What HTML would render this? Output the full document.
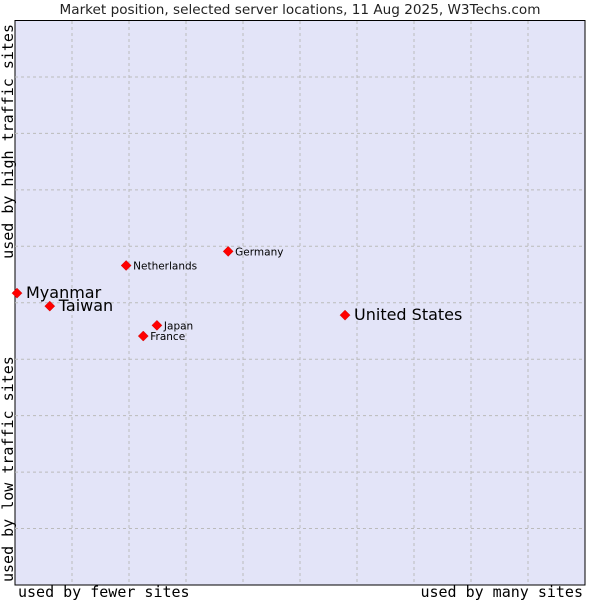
<!DOCTYPE html>
<html><head><meta charset="utf-8"><style>
body{margin:0;background:#fff;}
svg text{font-family:"DejaVu Sans","Liberation Sans",sans-serif;}
</style></head><body>
<svg id="c" width="600" height="600" xmlns="http://www.w3.org/2000/svg">
<text x="300" y="14" text-anchor="middle" font-size="13.6" fill="#222">Market position, selected server locations, 11 Aug 2025, W3Techs.com</text>
<rect x="15" y="20.5" width="570" height="564.5" fill="#e3e4f8" stroke="#000" stroke-width="1"/>
<g id="grid"></g>
<g id="pts"></g>
<text x="18" y="597" font-size="15" style="font-family:'DejaVu Sans Mono','Liberation Mono',monospace">used by fewer sites</text>
<text x="583" y="597" text-anchor="end" font-size="15" style="font-family:'DejaVu Sans Mono','Liberation Mono',monospace">used by many sites</text>
<text transform="translate(13,582) rotate(-90)" font-size="15" style="font-family:'DejaVu Sans Mono','Liberation Mono',monospace">used by low traffic sites</text>
<text transform="translate(13,24) rotate(-90)" text-anchor="end" font-size="15" style="font-family:'DejaVu Sans Mono','Liberation Mono',monospace">used by high traffic sites</text>
</svg>
<script>
const names=["Myanmar","Taiwan","Netherlands","Germany","Japan","France","United States"];
const xVals=[0.35,6.1,19.5,37.4,24.9,22.5,57.9];
const yVals=[51.7,49.4,56.6,59.1,46.0,44.1,47.8];
const big=[true,true,false,false,false,false,true];
const NS="http://www.w3.org/2000/svg";
const X=v=>15+v/100*570, Y=v=>585-v/100*564.5;
const grid=document.getElementById('grid'), pts=document.getElementById('pts');
for(let i=1;i<10;i++){
 const gx=document.createElementNS(NS,'line');
 gx.setAttribute('x1',X(i*10));gx.setAttribute('x2',X(i*10));gx.setAttribute('y1',21);gx.setAttribute('y2',585);
 gx.setAttribute('stroke','#bbb');gx.setAttribute('stroke-dasharray','3,3');
 
 
 grid.appendChild(gx);
 const gy=document.createElementNS(NS,'line');
 gy.setAttribute('y1',Y(i*10));gy.setAttribute('y2',Y(i*10));gy.setAttribute('x1',15);gy.setAttribute('x2',585);
 gy.setAttribute('stroke','#bbb');gy.setAttribute('stroke-dasharray','3,3');
 
 
 grid.appendChild(gy);
}
names.forEach((n,i)=>{
 const x=X(xVals[i]),y=Y(yVals[i]);
 const d=document.createElementNS(NS,'path');
 d.setAttribute('d',`M${x} ${y-5}L${x+5} ${y}L${x} ${y+5}L${x-5} ${y}Z`);
 d.setAttribute('fill','#f00');d.setAttribute('stroke','#c00');d.setAttribute('stroke-width','0.5');
 
 
 pts.appendChild(d);
 const t=document.createElementNS(NS,'text');
 t.setAttribute('x',x+(big[i]?9:7));t.setAttribute('y',y+(big[i]?5:4));
 t.setAttribute('font-size',big[i]?16:10.5);
 t.textContent=n;
 
 
 pts.appendChild(t);
});
</script>
</body></html>
